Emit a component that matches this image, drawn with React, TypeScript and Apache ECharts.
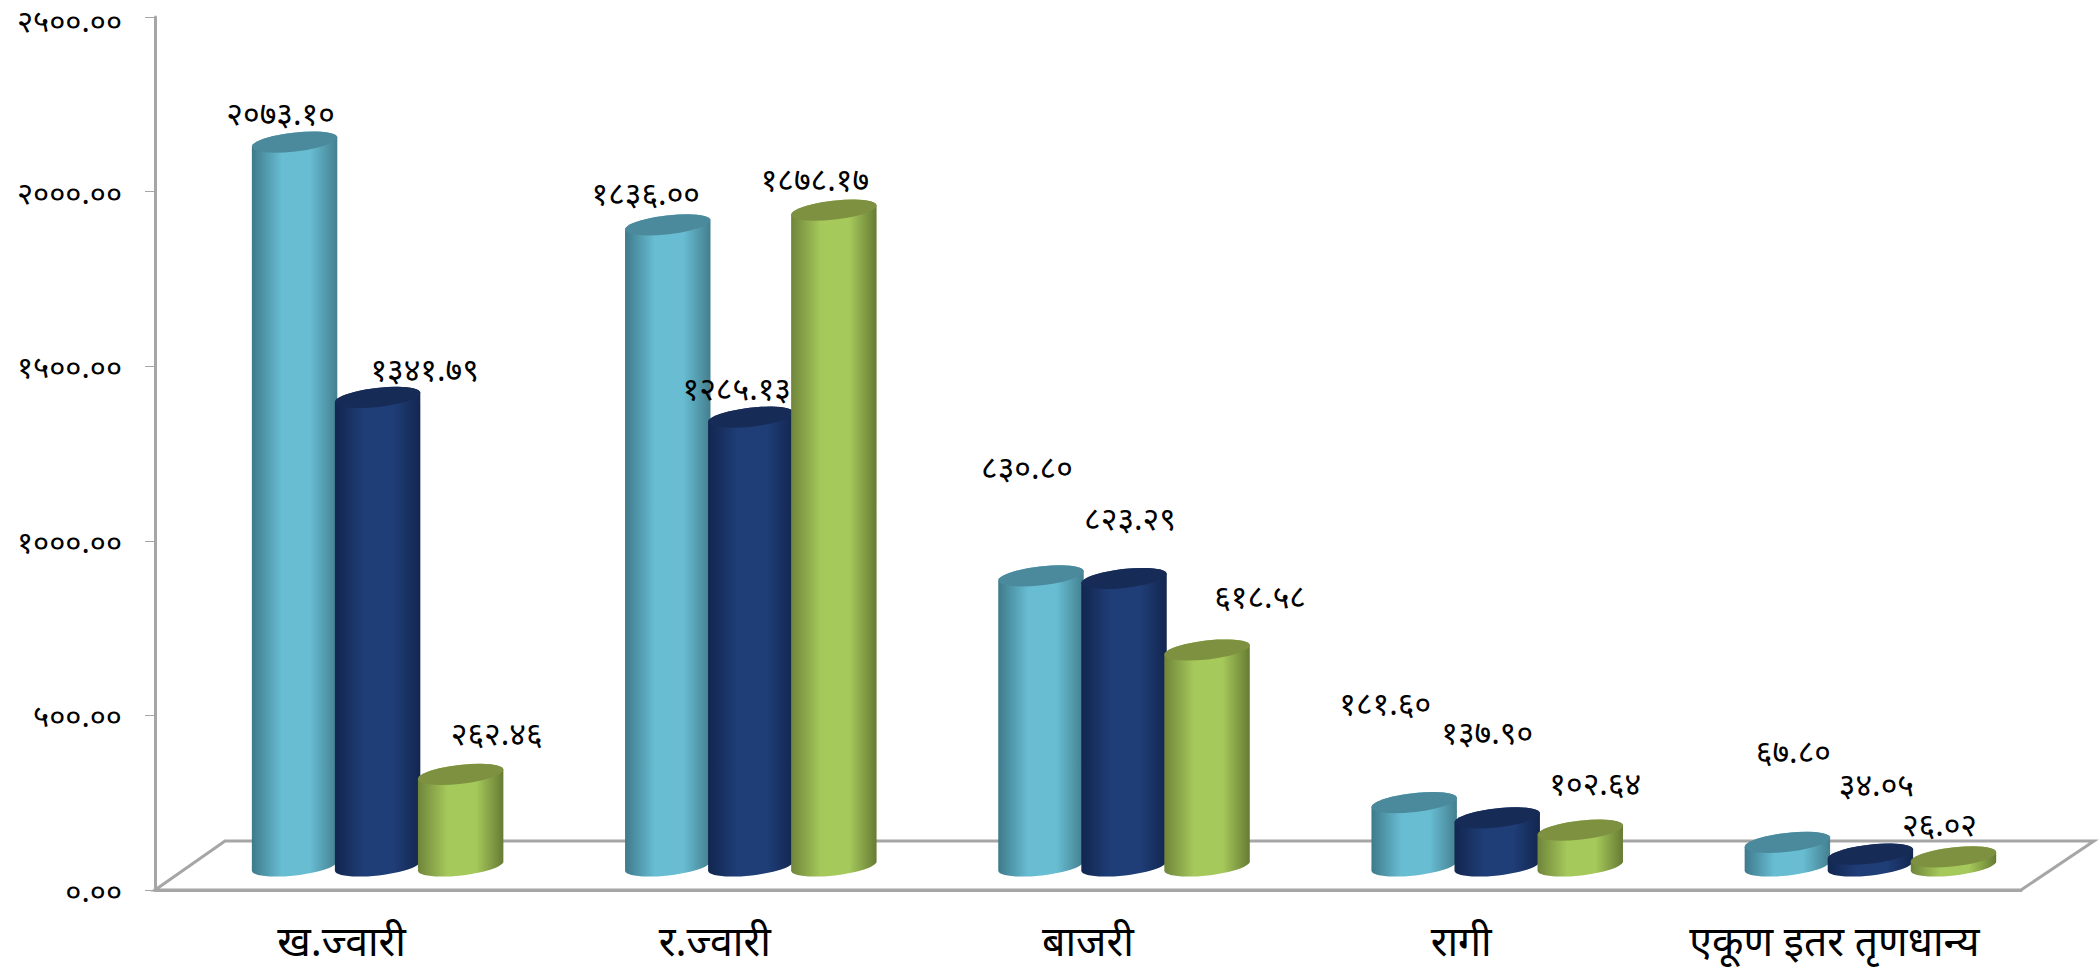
import React, { useEffect, useRef } from "react";
import * as echarts from "echarts";

const categories = ["ख.ज्वारी", "र.ज्वारी", "बाजरी", "रागी", "एकूण इतर तृणधान्य"];
const yTicks = ["०.००", "५००.००", "१०००.००", "१५००.००", "२०००.००", "२५००.००"];
const seriesA = [2073.1, 1836.0, 830.8, 181.6, 67.8];
const seriesB = [1341.79, 1285.13, 823.29, 137.9, 34.05];
const seriesC = [262.46, 1878.17, 618.58, 102.64, 26.02];
const labelsA = ["२०७३.१०", "१८३६.००", "८३०.८०", "१८१.६०", "६७.८०"];
const labelsB = ["१३४१.७९", "१२८५.१३", "८२३.२९", "१३७.९०", "३४.०५"];
const labelsC = ["२६२.४६", "१८७८.१७", "६१८.५८", "१०२.६४", "२६.०२"];

// label placement relative to each cylinder's top centre, in pixels
const offsetsA = [[-14, -30], [-22, -32], [-14, -109], [-29, -100], [6, -92]];
const offsetsB = [[47, -29], [-14, -30], [6, -61], [-10, -86], [6, -71]];
const offsetsC = [[36, -42], [-19, -32], [53, -54], [15, -48], [-14, -33]];

const FONT = "'Noto Sans', 'Noto Sans Devanagari', 'Lohit Devanagari', 'DejaVu Sans', sans-serif";
const AXIS = "#a6a6a6";
const RX = 43;
const RY = 9.5;
const TILT = (6.5 * Math.PI) / 180;
const DEPTH = 24; // floor sits this far above the axis line
const GROUP_SHIFT = 0.0965;
const BAR_STEP = 0.2225;
const STEPS = 24;

function skin(edgeL: string, mid: string, edgeR: string, top: string) {
  return { edgeL, mid, edgeR, top };
}

// One point on the tilted ellipse; t = 0 is its raised right end.
function rim(cx: number, cy: number, t: number): number[] {
  const a = RX * Math.cos(t);
  const b = RY * Math.sin(t);
  return [cx + a * Math.cos(TILT) + b * Math.sin(TILT), cy - a * Math.sin(TILT) + b * Math.cos(TILT)];
}

function arcPoints(cx: number, cy: number, from: number, to: number): number[][] {
  const pts: number[][] = [];
  for (let s = 0; s <= STEPS; s++) pts.push(rim(cx, cy, from + ((to - from) * s) / STEPS));
  return pts;
}

function cylinder(slot: number, labels: string[], offsets: number[][], c: ReturnType<typeof skin>) {
  return (params: any, api: any) => {
    const i = api.value(0);
    const band = api.size([1, 0])[0];
    const [cx0, yTop0] = api.coord([i, api.value(1)]);
    const cx = cx0 + band * GROUP_SHIFT + slot * band * BAR_STEP;
    const yTop = yTop0 - DEPTH;
    const yBase = api.coord([i, 0])[1] - DEPTH;
    const side = [
      ...arcPoints(cx, yBase, Math.PI, 0),
      ...arcPoints(cx, yTop, 0, -Math.PI),
    ];
    const cap = arcPoints(cx, yTop, 0, 2 * Math.PI);
    return {
      type: "group",
      children: [
        {
          type: "polygon",
          shape: { points: side },
          style: {
            fill: new echarts.graphic.LinearGradient(0, 0, 1, 0, [
              { offset: 0, color: c.edgeL },
              { offset: 0.35, color: c.mid },
              { offset: 0.68, color: c.mid },
              { offset: 1, color: c.edgeR },
            ]),
          },
        },
        { type: "polygon", shape: { points: cap }, style: { fill: c.top } },
        {
          type: "text",
          z2: 50,
          style: {
            x: cx + offsets[i][0],
            y: yTop + offsets[i][1],
            text: labels[i],
            fill: "#000",
            font: `32px ${FONT}`,
            align: "center",
            verticalAlign: "middle",
          },
        },
      ],
    };
  };
}

const skins = [
  skin("#3e7a8b", "#68bdd3", "#437f8f", "#4b8a9c"),
  skin("#12264f", "#1f3e78", "#13264f", "#172b57"),
  skin("#6f853a", "#a6c95b", "#667b33", "#7d9140"),
];

export default function App() {
  const ref = useRef<HTMLDivElement>(null);
  useEffect(() => {
    const chart = echarts.init(ref.current!, null, { renderer: "svg" });
    const toData = (vals: number[]) => vals.map((v, i) => [i, v]);
    const sets: [number[], string[], number[][]][] = [
      [seriesA, labelsA, offsetsA],
      [seriesB, labelsB, offsetsB],
      [seriesC, labelsC, offsetsC],
    ];
    chart.setOption({
      animation: false,
      backgroundColor: "#ffffff",
      grid: { left: 155, right: 78, top: 17, bottom: 83, containLabel: false, outerBoundsMode: "none" },
      xAxis: {
        type: "category",
        data: categories,
        boundaryGap: true,
        axisLine: { lineStyle: { color: AXIS, width: 3 } },
        axisTick: { length: 13, lineStyle: { color: AXIS, width: 1 } },
        axisLabel: { color: "#000", fontSize: 41, fontFamily: FONT, margin: 29, interval: 0, hideOverlap: false },
      },
      yAxis: {
        type: "value",
        min: 0,
        max: 2500,
        interval: 500,
        splitLine: { show: false },
        axisLine: { show: true, lineStyle: { color: AXIS, width: 3 } },
        axisTick: { show: true, length: 10, lineStyle: { color: AXIS, width: 1 } },
        axisLabel: {
          color: "#000",
          fontSize: 31,
          fontFamily: FONT,
          margin: 33,
          formatter: (v: number) => (v === 2500 ? `{top|${yTicks[v / 500]}}` : yTicks[v / 500]),
          rich: {
            top: { fontSize: 31, fontFamily: FONT, color: "#000", padding: [6, 0, 0, 0], lineHeight: 30 },
          },
        },
      },
      graphic: [
        {
          type: "polygon",
          silent: true,
          z: 0,
          shape: { points: [[155, 890], [225, 841], [2094, 841], [2021, 890]] },
          style: { fill: "#ffffff", stroke: AXIS, lineWidth: 3 },
        },
      ],
      series: sets.map(([vals, labels, offsets], k) => ({
        type: "custom",
        name: `श्रृंखला ${k + 1}`,
        z: 5 + k,
        coordinateSystem: "cartesian2d",
        clip: false,
        encode: { x: 0, y: 1 },
        data: toData(vals),
        renderItem: cylinder(k - 1, labels, offsets, skins[k]),
      })),
    });
    return () => chart.dispose();
  }, []);
  return <div ref={ref} style={{ position: "fixed", left: 0, top: 0, width: 2099, height: 973 }} />;
}
